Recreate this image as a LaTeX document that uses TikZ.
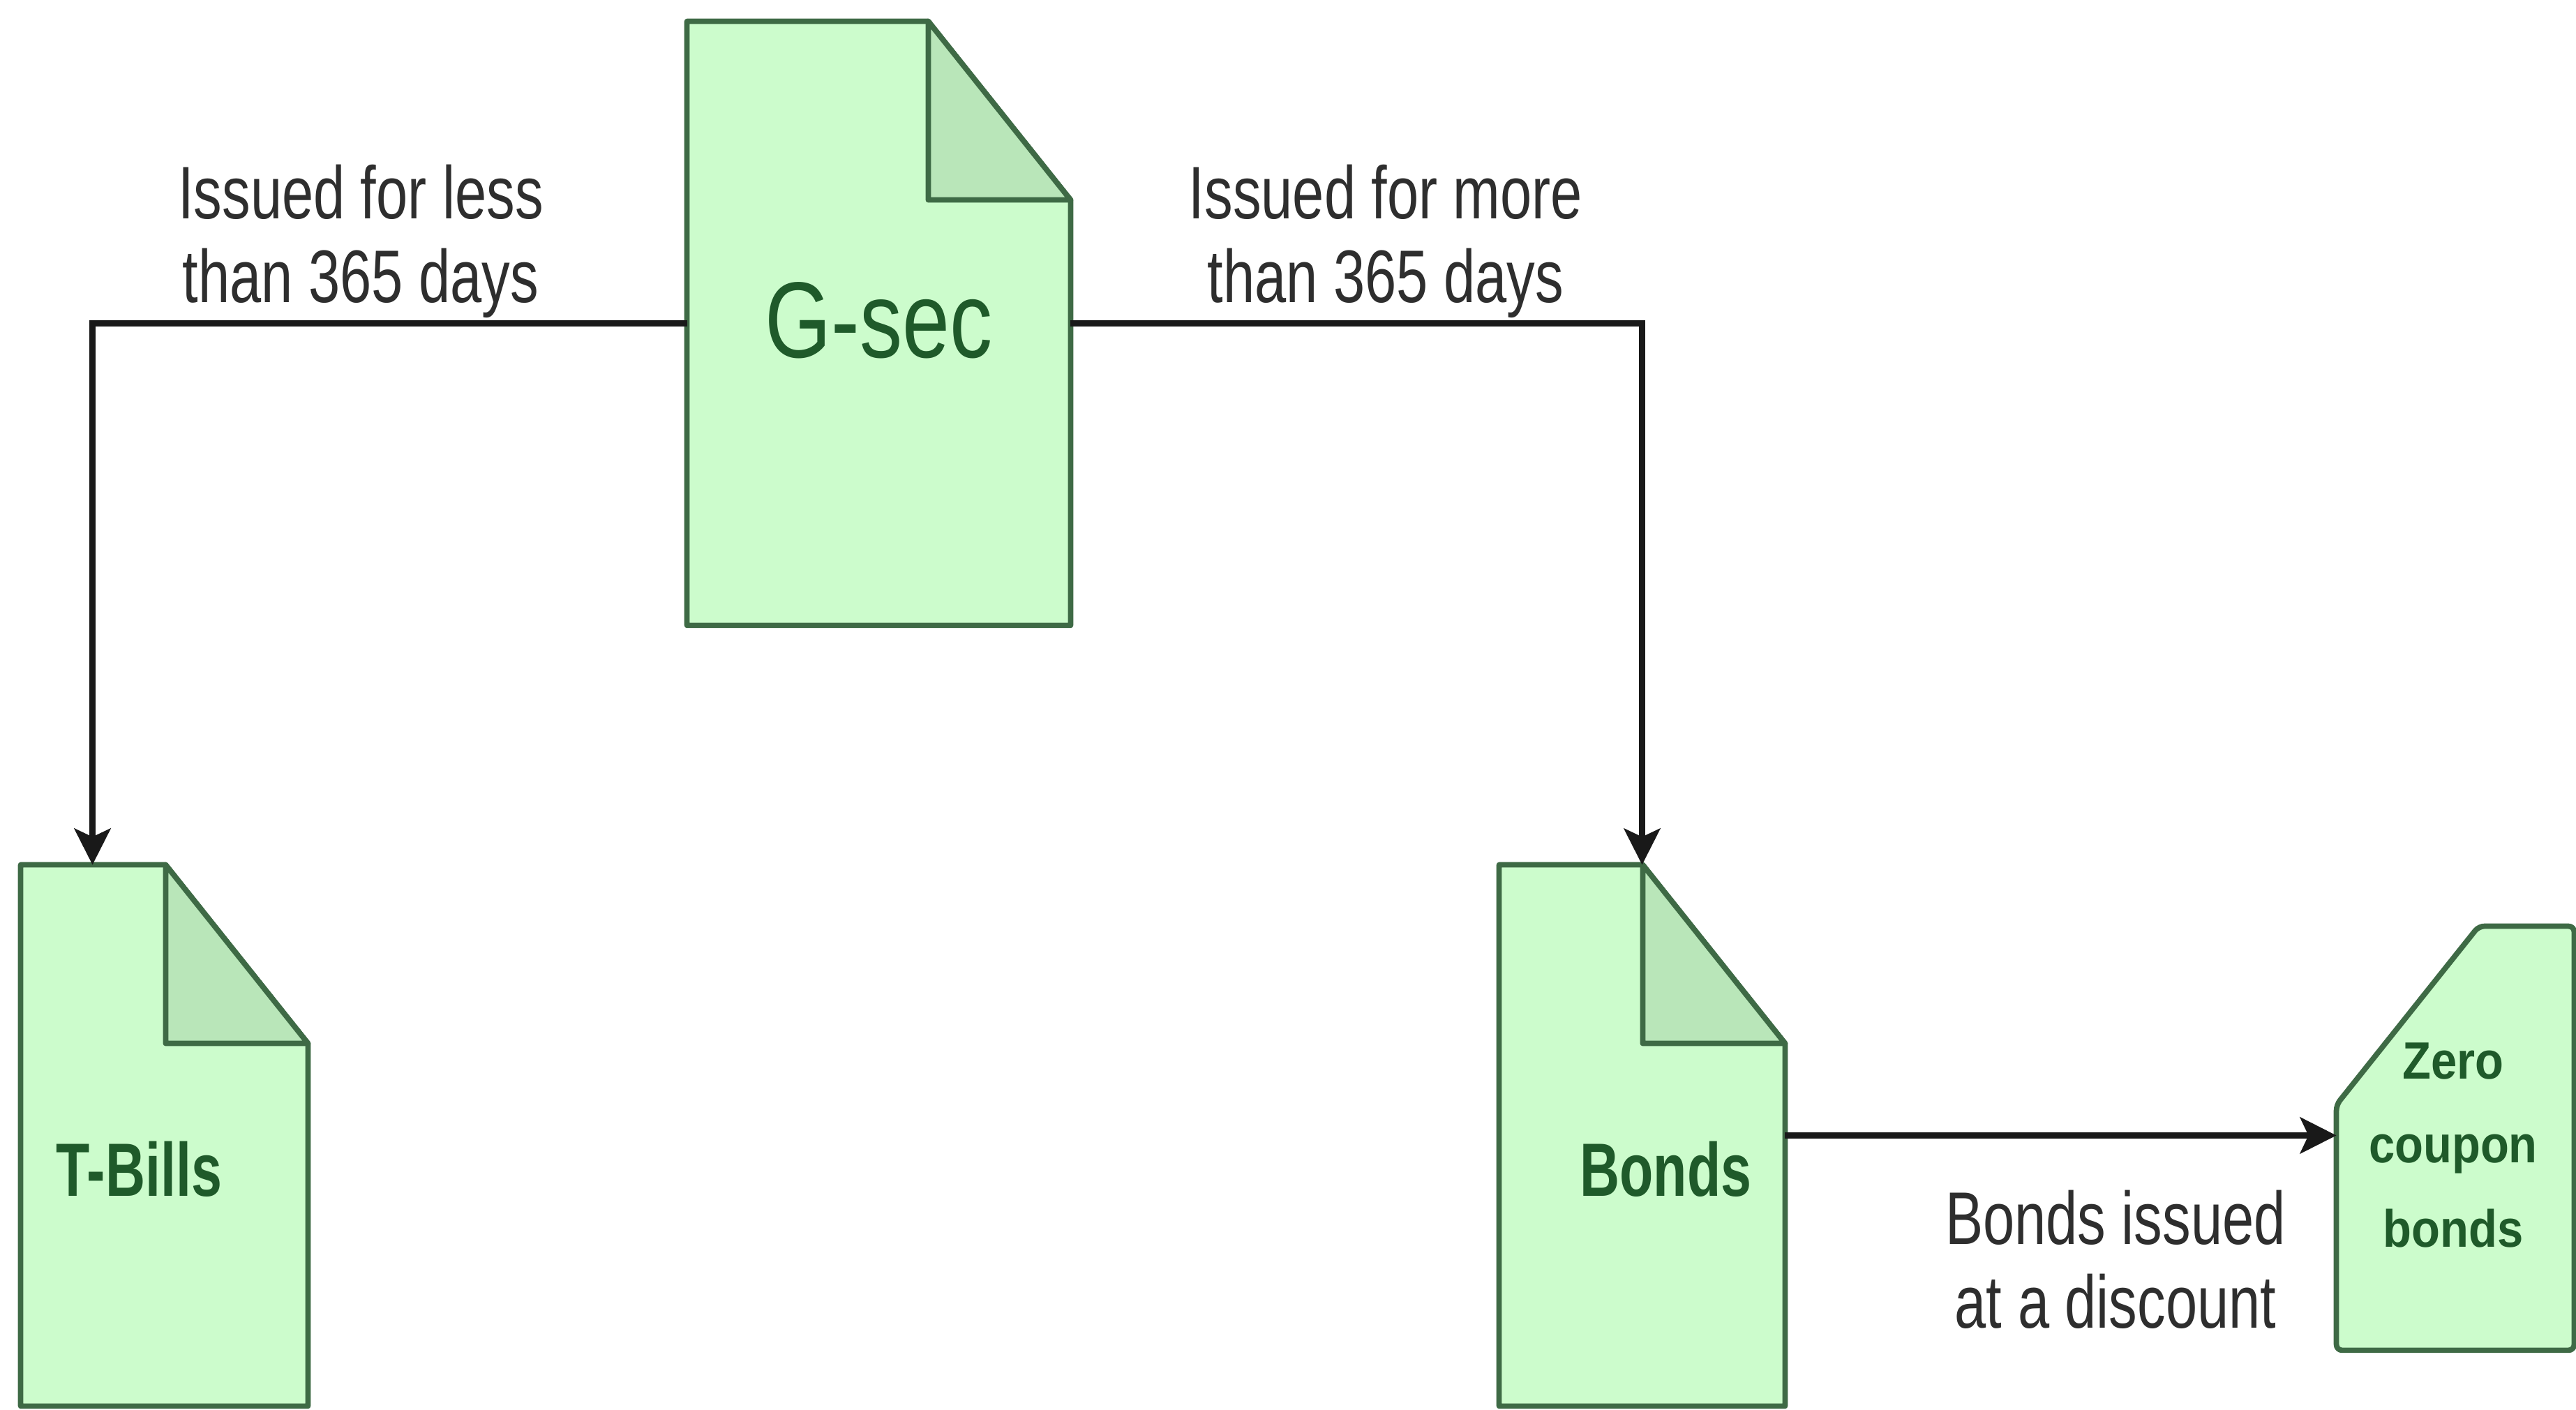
\documentclass[tikz,border=0pt]{standalone}
\usepackage{fontspec}
\setmainfont{Liberation Sans}
\usepackage{xcolor}
\usetikzlibrary{arrows.meta,calc,positioning}
\definecolor{docfill}{HTML}{CCFCCC}
\definecolor{foldfill}{HTML}{B9E6B9}
\definecolor{docedge}{HTML}{3E6A45}
\definecolor{doctext}{HTML}{1F5A2A}
\definecolor{lbltext}{HTML}{2E2E2E}
\newcommand{\foldw}{1.02cm}
\newcommand{\foldh}{1.28cm}
\newcommand{\docshape}[1]{%
\filldraw[docline](#1.south west)--(#1.north west)--([xshift=-\foldw]#1.north east)--([yshift=-\foldh]#1.north east)--(#1.south east)--cycle;
\filldraw[docline,fill=foldfill]([xshift=-\foldw]#1.north east)|-([yshift=-\foldh]#1.north east)--cycle;}
\newcommand{\cardshape}[1]{%
\filldraw[docline,rounded corners=0.04cm]([yshift=-\foldh]#1.north west)--([xshift=\foldw]#1.north west)--(#1.north east)--(#1.south east)--(#1.south west)--cycle;}
\tikzset{
docbox/.style={inner sep=0pt},
docline/.style={draw=docedge,fill=docfill,line width=1.1pt,line join=round},
conn/.style={draw=black!90,line width=1.2pt,-{Stealth[length=0.26cm,width=0.26cm,inset=0.06cm]}},
txt/.style={inner sep=0pt,xscale=#1,transform shape},
lbl/.style={txt=0.76,font=\fontsize{15.2}{17.1}\selectfont,text=lbltext,align=center}
}
\begin{document}
\begin{tikzpicture}
\useasboundingbox(0,0)rectangle(18.46,10.105);
\node[docbox,minimum width=2.735cm,minimum height=4.315cm](gsec)at(6.2975,7.7875){};
\node[docbox,minimum width=2.045cm,minimum height=3.865cm](tbills)at(1.1775,1.9675){};
\node[docbox,minimum width=2.035cm,minimum height=3.865cm](bonds)at(11.7675,1.9675){};
\node[docbox,minimum width=1.69cm,minimum height=3.025cm](zero)at(17.595,1.9475){};
\docshape{gsec}
\docshape{tbills}
\docshape{bonds}
\cardshape{zero}
\node[txt=0.79,font=\fontsize{22}{24}\selectfont,text=doctext](gsectext)at([yshift=0.02cm]gsec.center){G-sec};
\node[txt=0.73,font=\fontsize{15.4}{17}\selectfont\bfseries,text=doctext](tbillstext)at([shift={(-0.18,-0.24)}]tbills.center){T-Bills};
\node[txt=0.73,font=\fontsize{15.4}{17}\selectfont\bfseries,text=doctext](bondstext)at([shift={(0.17,-0.24)}]bonds.center){Bonds};
\node[txt=0.89,font=\fontsize{10.7}{17.1}\selectfont\bfseries,text=doctext,align=center](zerotext)at([shift={(-0.015,-0.05)}]zero.center){Zero\\coupon\\bonds};
\draw[conn](gsec.west)-|($(tbills.north west)!0.25!(tbills.north east)$);
\draw[conn](gsec.east)-|(bonds.north);
\draw[conn](bonds.east)--(bonds.east-|zero.west);
\node[lbl](lesslabel)at(2.585,8.375){Issued for less\\than 365 days};
\node[lbl](morelabel)at(9.93,8.375){Issued for more\\than 365 days};
\node[lbl](disclabel)at(15.16,1.08){Bonds issued\\at a discount};
\end{tikzpicture}
\end{document}
